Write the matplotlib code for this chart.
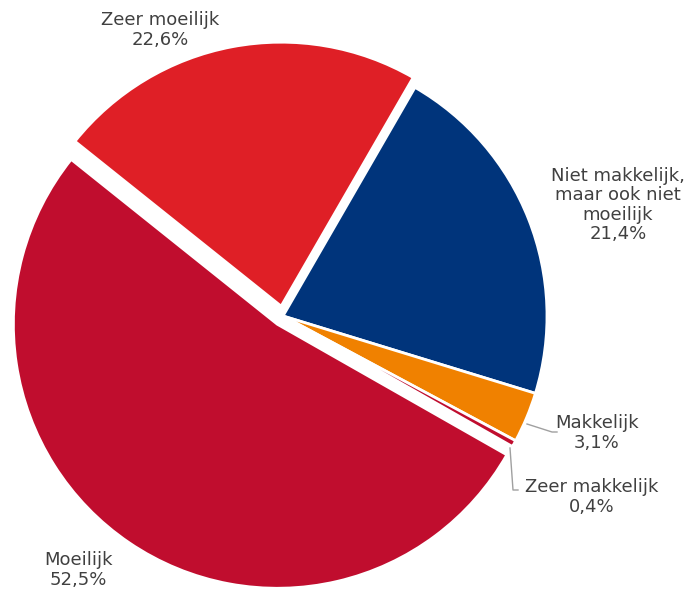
import matplotlib
matplotlib.use('Agg')
import matplotlib.pyplot as plt

# data, clockwise from the top-right
labels = ["Niet makkelijk,\nmaar ook niet\nmoeilijk", "Makkelijk", "Zeer makkelijk",
          "Moeilijk", "Zeer moeilijk"]
values = [21.4, 3.1, 0.4, 52.5, 22.6]
colors = ["#00347B", "#F08100", "#C00D2E", "#C00D2E", "#DF1F26"]

H = 592
fig = plt.figure(figsize=(6.93, 5.92), dpi=100)
ax = fig.add_axes([0, 0, 1, 1])

cx, cy, r = 283, H - 316, 264
# explode is in data units here (pixels), not relative to the radius
explode = [0, 0, 0, 10, 10]
ax.pie(values, colors=colors, explode=explode, startangle=60, counterclock=False,
       center=(cx, cy), radius=r, frame=True,
       wedgeprops=dict(edgecolor='white', linewidth=2))
ax.set_xlim(0, 693)
ax.set_ylim(0, H)
ax.axis('off')


def pct(v):
  return ("%.1f%%" % v).replace('.', ',')


txt = dict(fontsize=13, color='#404040', ha='center', va='center', linespacing=1.1)
# label positions in pixels (x, y from top)
pos = [(618, 205), (597, 433), (592, 497), (78, 570), (160, 30)]
for lab, v, (px, py) in zip(labels, values, pos):
  ax.text(px, H - py, lab + "\n" + pct(v), **txt)

# leader lines for the small slices
ax.plot([527, 552, 557], [H - 424, H - 432, H - 432], color='#A0A0A0', lw=1)
ax.plot([510, 513, 518], [H - 448, H - 490, H - 490], color='#A0A0A0', lw=1)

fig.savefig('out.png', dpi=100)
